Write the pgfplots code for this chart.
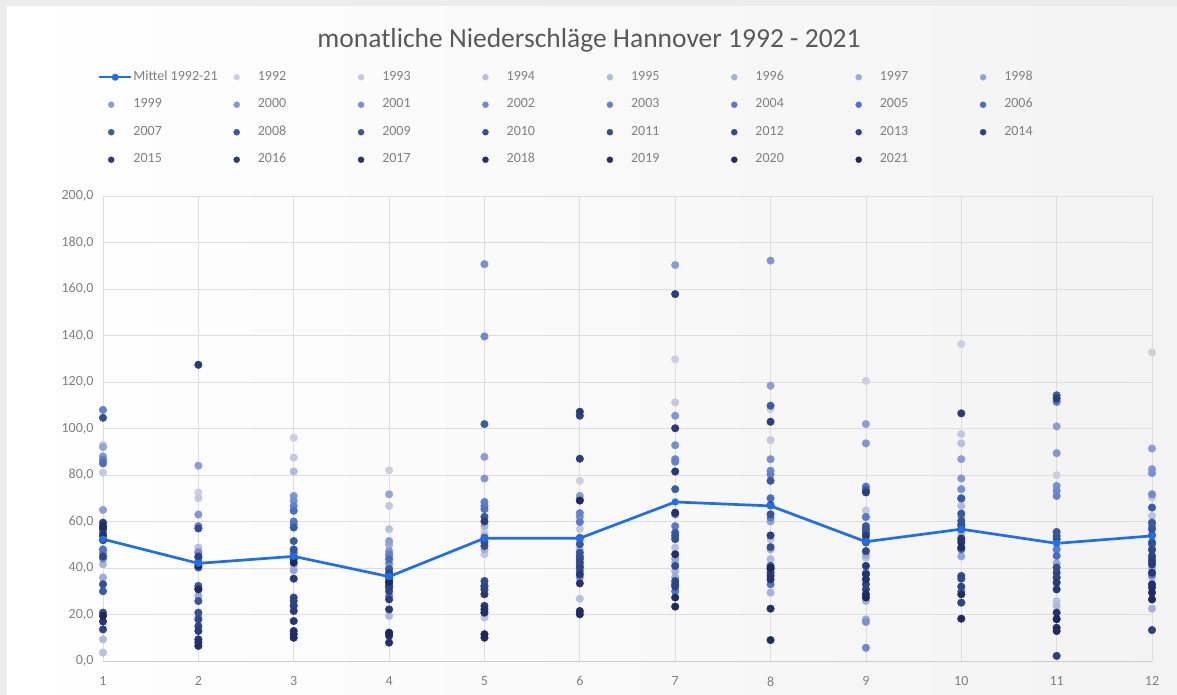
\documentclass[border=0pt]{standalone}
\usepackage{fontspec}
\setmainfont{Carlito}
\usepackage{pgfplots}
\usepackage{pgfplotstable}
\pgfplotsset{compat=1.18}

\definecolor{clight}{RGB}{205,207,225}
\definecolor{cmid}{RGB}{72,108,200}
\definecolor{cdarkA}{RGB}{58,92,165}
\definecolor{cdark}{RGB}{30,40,95}
\definecolor{meanblue}{RGB}{31,111,232}
\definecolor{gridgray}{RGB}{222,222,222}
\definecolor{axisgray}{RGB}{205,205,205}
\definecolor{labelgray}{RGB}{128,128,128}
\definecolor{titlegray}{RGB}{89,89,89}
\definecolor{outerbg}{RGB}{236,236,236}
\definecolor{chartbg}{RGB}{243,243,243}

% colours of the years, light (1992) to dark (2021)
\colorlet{c1992}{clight}
\colorlet{c1993}{cmid!7!clight}
\colorlet{c1994}{cmid!14!clight}
\colorlet{c1995}{cmid!21!clight}
\colorlet{c1996}{cmid!29!clight}
\colorlet{c1997}{cmid!36!clight}
\colorlet{c1998}{cmid!43!clight}
\colorlet{c1999}{cmid!50!clight}
\colorlet{c2000}{cmid!57!clight}
\colorlet{c2001}{cmid!64!clight}
\colorlet{c2002}{cmid!71!clight}
\colorlet{c2003}{cmid!79!clight}
\colorlet{c2004}{cmid!86!clight}
\colorlet{c2005}{cmid!93!clight}
\colorlet{c2006}{cmid}
\colorlet{c2007}{cdarkA}
\colorlet{c2008}{cdark!7!cdarkA}
\colorlet{c2009}{cdark!14!cdarkA}
\colorlet{c2010}{cdark!21!cdarkA}
\colorlet{c2011}{cdark!29!cdarkA}
\colorlet{c2012}{cdark!36!cdarkA}
\colorlet{c2013}{cdark!43!cdarkA}
\colorlet{c2014}{cdark!50!cdarkA}
\colorlet{c2015}{cdark!57!cdarkA}
\colorlet{c2016}{cdark!64!cdarkA}
\colorlet{c2017}{cdark!71!cdarkA}
\colorlet{c2018}{cdark!79!cdarkA}
\colorlet{c2019}{cdark!86!cdarkA}
\colorlet{c2020}{cdark!93!cdarkA}
\colorlet{c2021}{cdark}

\pgfplotsset{
  yearpt/.style={only marks, mark=*, mark size=3.8pt, color=#1,
    mark options={draw=none, fill=#1},
    legend image code/.code={\path (0pt,0pt) (32pt,0pt);
      \draw[##1, mark size=3pt] plot coordinates {(12pt,0pt)};}},
  meanlegend/.style={legend image code/.code={\path (0pt,0pt) (32pt,0pt);
      \draw[##1, mark repeat=2, mark phase=2] plot coordinates {(0pt,0pt) (16pt,0pt) (32pt,0pt)};}},
}

% monthly precipitation (mm), one column per year, last column the mean
\pgfplotstableread{
m y1992 y1993 y1994 y1995 y1996 y1997 y1998 y1999 y2000 y2001 y2002 y2003 y2004 y2005 y2006 y2007 y2008 y2009 y2010 y2011 y2012 y2013 y2014 y2015 y2016 y2017 y2018 y2019 y2020 y2021 mean
1 93 81 3.6 9.3 41.6 35.9 92 65 88 46.6 44 108 86.5 48 85 30 57 55 33 104.6 20.8 45 13.6 59.5 56.7 17 53.8 52 58 19.4 52.4
2 72.5 70 48.8 9 19 28 47 84 63 46.6 44.5 58 43 31 42.3 40.2 32.3 25.8 20.8 57 17.9 15 45 12.9 127.4 9.3 7.9 6.5 30.8 41 42.0
3 96 87.5 40.9 81.5 44 47 39 24 71 69 58.8 66.7 46.6 60 64.6 57.4 51.6 48 45 43.8 27.3 25.8 23.7 21.5 35.4 17.2 12.9 11.5 10 42.3 45.0
4 82 66.7 56.7 19.4 45 50 71.7 51.6 47.3 40 42 45.9 28 36 43.8 39.5 35.9 34.4 33 31.6 38 30 32 26.5 22.2 12.2 10.8 7.9 34 12 36.3
5 55.2 45.9 18.7 54 58 48 21 87.8 78.5 170.7 139.6 68.4 66.7 65.3 32 101.9 62 53 51 49.5 34.4 32.3 30.8 60 28.7 23.7 22.2 20.8 10 11.5 52.8
6 77.5 56.7 26.8 48 44 39 52 71 69.6 62 36 63.6 59.8 41 38.7 53 50.2 46.6 45 43.8 42.3 40.2 105.5 87 107.2 37.3 33.4 21.5 20.1 69 52.8
7 129.8 111.2 48.8 42.3 38.7 36 44 170.3 105.5 92.8 86.8 85.7 58 30 63.1 73.9 55.2 53.8 52.4 40.9 34.4 33 32 157.8 100.1 81.5 63.8 45.9 27.3 23.4 68.4
8 108.3 95 52.4 43.8 29.4 48 60 118.4 172.2 86.8 81.8 80.3 61.7 33 70 109.8 77.5 63.1 49 40.9 39.5 38 54 102.9 67 36.6 35.1 22.5 9 40 66.7
9 120.5 64.8 61.7 44.5 25.8 17.9 46 101.9 93.6 16.8 5.7 38 62 75 52 73.6 58 56.7 55.2 51 47.3 33 30.8 72.5 53.8 40.9 37.3 35.1 28.7 27.3 51.3
10 136.3 97.6 93.6 66.7 55 62 45 86.8 78.5 73.9 52 70 30 58 48 69.9 63.4 60.3 58.8 36.6 35.4 32 25.1 106.5 56.7 52.7 51 48.8 28.7 18.2 56.7
11 79.9 50.2 25.8 23.7 17.9 36 42 100.9 89.4 75.3 73.2 71 48 111.5 45.2 114.3 55.5 53.8 52.4 40.2 38 35.9 2.2 112.9 33.7 30.8 20.8 14.3 12.9 18 50.6
12 132.7 70.3 62.4 35.9 22.5 48 40 91.4 82.5 80.8 71.7 58 37 50 44 66 59.5 56.7 54.1 51 47.8 45.2 13.3 43 41.6 38 33 31.6 29.4 26.5 53.8
}\data

\begin{document}
\begin{tikzpicture}
% chart background (1 px = 1 pt)
\fill[outerbg] (-103pt,-34pt) rectangle (1074pt,661pt);
\shade[left color=white, right color=chartbg] (-96pt,-34pt) rectangle (1074pt,654pt);

\begin{axis}[
    scale only axis,
    width=1049pt, height=465pt,
    xmin=1, xmax=12, ymin=0, ymax=200,
    xtick={1,...,12},
    ytick={0,20,...,200},
    grid=major,
    grid style={gridgray, line width=0.8pt},
    axis line style={draw=none},
    major tick length=0pt,
    tick style={draw=none},
    /pgf/number format/assume math mode=true,
    ticklabel style={font=\fontsize{14}{16}\selectfont, text=labelgray},
    yticklabel={\pgfmathprintnumber[fixed,fixed zerofill,precision=1,use comma]{\tick}},
    yticklabel style={xshift=-6pt},
    xticklabel style={yshift=-12pt},
    title={monatliche Niederschläge Hannover 1992 - 2021},
    title style={at={(0.4633,1.3075)}, anchor=base, font=\fontsize{27.5}{32}\selectfont, text=titlegray},
    legend columns=8,
    legend cell align=left,
    legend style={at={(-0.00477,1.271)}, anchor=north west, draw=none, fill=none,
        inner sep=0pt, outer sep=0pt, font=\fontsize{14}{16}\selectfont, text=labelgray,
        row sep=13pt,
        nodes={inner sep=1pt, text height=9.5pt, text depth=3pt},
        /tikz/every odd column/.style={column sep=0pt},
        /tikz/every even column/.style={column sep=2pt}},
    after end axis/.code={\draw[axisgray, line width=0.8pt] (rel axis cs:0,0) -- (rel axis cs:1,0);},
]
\addlegendimage{meanblue, line width=2.5pt, mark=*, mark size=2.2pt, meanlegend}
\addlegendentry{\makebox[88pt][l]{Mittel 1992-21}}

\pgfplotsinvokeforeach{1992,...,2021}{
  \addplot[yearpt=c#1] table[x=m, y=y#1] {\data};
  \addlegendentry{\makebox[88pt][l]{#1}}
}

\addplot[meanblue, line width=2.7pt, mark=*, mark size=2.2pt, forget plot] table[x=m, y=mean] {\data};
\end{axis}
\pgfresetboundingbox
\path (-103pt,-34pt) rectangle (1074pt,661pt);
\end{tikzpicture}
\end{document}
